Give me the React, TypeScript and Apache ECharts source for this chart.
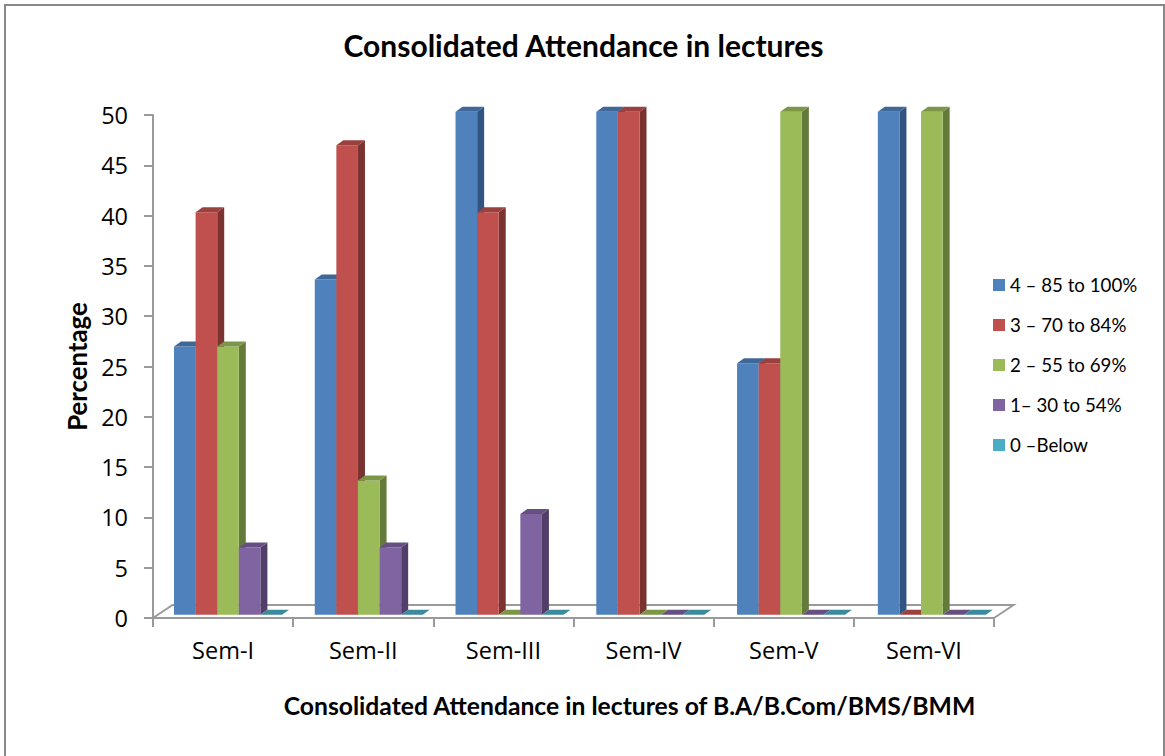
import React, { useEffect, useRef } from "react";
import * as echarts from "echarts";

const categories = ["Sem-I", "Sem-II", "Sem-III", "Sem-IV", "Sem-V", "Sem-VI"];
const band4 = [26.67, 33.33, 50, 50, 25, 50];
const band3 = [40, 46.67, 40, 50, 25, 0];
const band2 = [26.67, 13.33, 0, 0, 50, 50];
const band1 = [6.67, 6.67, 10, 0, 0, 0];
const band0 = [0, 0, 0, 0, 0, 0];
const seriesNames = ["4 – 85 to 100%", "3 – 70 to 84%", "2 – 55 to 69%", "1– 30 to 54%", "0 –Below"];
const seriesValues = [band4, band3, band2, band1, band0];
const frontColors = ["#4F81BD", "#C0504D", "#9BBB59", "#8064A2", "#4BACC6"];
const topColors = ["#3F6797", "#9A403E", "#7C9647", "#665082", "#3C8A9E"];
const sideColors = ["#325480", "#7A3331", "#647A3A", "#523F69", "#2D6777"];

const GRID = { left: 153, top: 115, width: 841, height: 503 };
const AXIS_COLOR = "#9a9a9a";
const BAR_W = 21.6;
const DX = 7;
const DY = 5;

function makeBarRenderer(si: number) {
  return (_params: any, api: any) => {
    const cat = api.value(0);
    const val = api.value(1);
    const [cx, yTop0] = api.coord([cat, val]);
    const [, yBase0] = api.coord([cat, 0]);
    const bandW = api.size([1, 0])[0];
    const x = cx - bandW / 2 + 21 + cat * 0.6 + si * BAR_W;
    const yTop = yTop0 - 3.3;
    const yBase = yBase0 - 3.3;
    const children: any[] = [];
    if (val > 0) {
      children.push({
        type: "polygon",
        shape: { points: [[x + BAR_W, yBase], [x + BAR_W + DX, yBase - DY], [x + BAR_W + DX, yTop - DY], [x + BAR_W, yTop]] },
        style: { fill: sideColors[si] },
      });
      children.push({
        type: "rect",
        shape: { x, y: yTop, width: BAR_W, height: yBase - yTop },
        style: { fill: frontColors[si] },
      });
    }
    children.push({
      type: "polygon",
      shape: { points: [[x, yTop], [x + DX, yTop - DY], [x + BAR_W + DX, yTop - DY], [x + BAR_W, yTop]] },
      style: { fill: topColors[si] },
    });
    return { type: "group", children };
  };
}

function renderFloor(_params: any, api: any) {
  const bandW = api.size([1, 0])[0];
  const [c0, y0] = api.coord([0, 0]);
  const xL = c0 - bandW / 2;
  const xR = xL + bandW * categories.length;
  const fx = 19.5;
  const fy = 13;
  return {
    type: "polyline",
    shape: { points: [[xL, y0], [xL + fx, y0 - fy], [xR + fx, y0 - fy], [xR, y0]] },
    style: { fill: "none", stroke: AXIS_COLOR, lineWidth: 2 },
    silent: true,
  };
}

export default function App() {
  const ref = useRef<HTMLDivElement>(null);
  useEffect(() => {
    const chart = echarts.init(ref.current!, undefined, { renderer: "svg", width: 1165, height: 756 });
    chart.setOption({
      animation: false,
      backgroundColor: "#ffffff",
      title: [
        { text: "Consolidated Attendance in lectures", left: 578.5, top: 25, textAlign: "center",
          textStyle: { fontFamily: "Lato", fontWeight: "bold", fontSize: 30, color: "#000" } },
        { text: "Consolidated Attendance in lectures of B.A/B.Com/BMS/BMM", left: 624.5, top: 688, textAlign: "center",
          textStyle: { fontFamily: "Lato", fontWeight: "bold", fontSize: 24.7, color: "#000" } },
      ],
      grid: { ...GRID, containLabel: false },
      legend: {
        orient: "vertical", left: 988, top: 270, itemWidth: 12, itemHeight: 12, itemGap: 20, icon: "rect",
        data: seriesNames,
        textStyle: { fontFamily: "Lato", fontSize: 18.7, lineHeight: 20, color: "#000" },
      },
      xAxis: {
        type: "category", data: categories,
        axisLine: { lineStyle: { color: AXIS_COLOR, width: 2 } },
        axisTick: { show: true, length: 9, lineStyle: { color: AXIS_COLOR, width: 2 } },
        axisLabel: { fontFamily: "Open Sans", fontSize: 23.5, color: "#000", margin: 20 },
        splitLine: { show: false },
      },
      yAxis: {
        type: "value", min: 0, max: 50, interval: 5,
        name: "Percentage", nameLocation: "middle", nameGap: 63, nameRotate: 90,
        nameTextStyle: { fontFamily: "Lato", fontWeight: "bold", fontSize: 25.8, color: "#000" },
        axisLine: { show: true, lineStyle: { color: AXIS_COLOR, width: 2 } },
        axisTick: { show: true, length: 9, lineStyle: { color: AXIS_COLOR, width: 2 } },
        axisLabel: { fontFamily: "Open Sans", fontSize: 23.5, color: "#000", margin: 25, padding: [2, 0, 0, 0] },
        splitLine: { show: false },
      },
      series: [
        { type: "custom", name: "floor", data: [[0, 0]], renderItem: renderFloor, silent: true, z: 1 },
        ...seriesNames.map((name, si) => ({
          type: "custom",
          name,
          itemStyle: { color: frontColors[si] },
          encode: { x: 0, y: 1 },
          data: seriesValues[si].map((v, i) => [i, v]),
          renderItem: makeBarRenderer(si),
          z: 2 + si,
        })),
      ],
      graphic: [
        { type: "polyline", silent: true, shape: { points: [[5, 756], [5, 5], [1164, 5], [1164, 756]] },
          style: { fill: "none", stroke: "#888", lineWidth: 2 } },
      ],
    });
    return () => chart.dispose();
  }, []);
  return <div ref={ref} style={{ position: "absolute", left: 0, top: 0, width: 1165, height: 756 }} />;
}
